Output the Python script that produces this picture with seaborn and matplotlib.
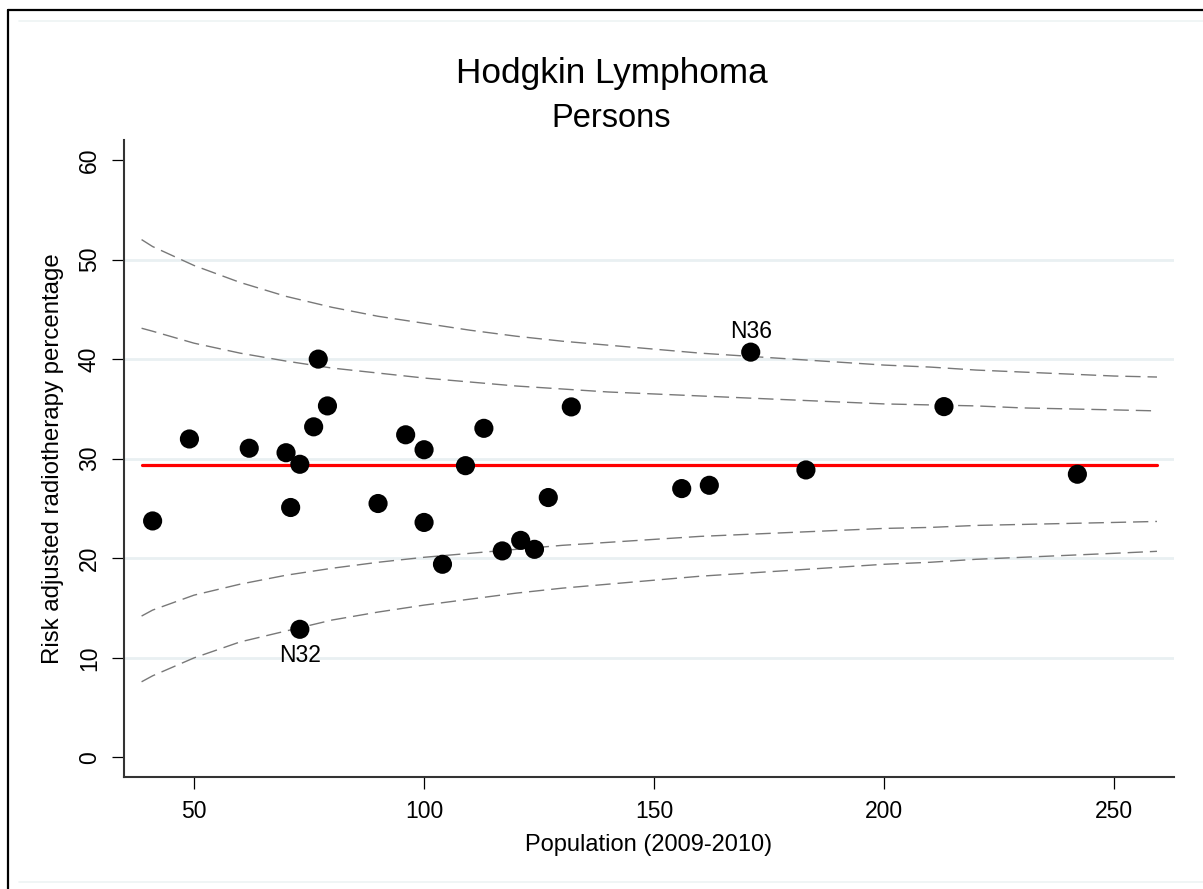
import matplotlib
matplotlib.use("Agg")
import matplotlib.pyplot as plt
from matplotlib.lines import Line2D
import numpy as np
import pandas as pd
import seaborn as sns

# Hospital populations and risk adjusted radiotherapy rates
population = [41, 49, 62, 70, 71, 73, 73, 76, 77, 79, 90, 96, 100, 100, 104,
              109, 113, 117, 121, 124, 127, 132, 156, 162, 171, 183, 213, 242]
rate = [23.75, 31.98, 31.05, 30.6, 25.1, 29.44, 12.87, 33.2, 40.0, 35.3, 25.5,
        32.4, 30.9, 23.6, 19.4, 29.3, 33.05, 20.74, 21.8, 20.9, 26.1, 35.2,
        27.0, 27.33, 40.7, 28.87, 35.23, 28.44]
point_id = ["", "", "", "", "", "", "N32", "", "", "", "", "", "", "", "",
            "", "", "", "", "", "", "", "", "", "N36", "", "", ""]

# Overall rate and funnel control limits
overall_rate = 29.4
limit_pop = [38.6, 41, 50, 60, 70, 80, 90, 100, 110, 120, 130, 140, 150, 160,
             170, 180, 190, 200, 210, 220, 230, 240, 250, 259.3]
upper_998 = [52.0, 51.3, 49.4, 47.7, 46.3, 45.2, 44.3, 43.6, 42.9, 42.3, 41.8,
             41.4, 41.0, 40.6, 40.3, 40.0, 39.7, 39.4, 39.2, 38.9, 38.7, 38.5,
             38.3, 38.2]
upper_95 = [43.1, 42.8, 41.6, 40.6, 39.8, 39.1, 38.6, 38.1, 37.7, 37.3, 37.0,
            36.7, 36.5, 36.3, 36.1, 35.9, 35.7, 35.5, 35.4, 35.3, 35.1, 35.0,
            34.9, 34.8]
lower_95 = [14.2, 14.8, 16.3, 17.4, 18.3, 19.0, 19.6, 20.1, 20.5, 20.9, 21.3,
            21.6, 21.9, 22.2, 22.4, 22.6, 22.8, 23.0, 23.1, 23.3, 23.4, 23.5,
            23.6, 23.7]
lower_998 = [7.6, 8.2, 10.0, 11.6, 12.7, 13.8, 14.6, 15.3, 15.9, 16.5, 17.0,
             17.4, 17.8, 18.2, 18.5, 18.8, 19.1, 19.4, 19.6, 19.9, 20.1, 20.3,
             20.5, 20.7]

x_ticks = [50, 100, 150, 200, 250]
y_ticks = [0, 10, 20, 30, 40, 50, 60]

sns.set_style("ticks")
plt.rcParams["font.family"] = ["Liberation Sans", "DejaVu Sans"]
plt.rcParams["text.color"] = "black"
plt.rcParams["axes.labelcolor"] = "black"
plt.rcParams["xtick.color"] = "black"
plt.rcParams["ytick.color"] = "black"

W, H = 1203, 889
fig = plt.figure(figsize=(W / 100, H / 100), dpi=100)
fig.patch.set_facecolor("white")
ax = fig.add_axes([124 / W, 1 - 777 / H, (1174 - 124) / W, (777 - 140) / H])
ax.set_facecolor("white")

ax.set_xlim(34.78, 263.0)
ax.set_ylim(-1.96, 62.0)

# Horizontal grid lines
for gy in [10, 20, 30, 40, 50]:
    ax.axhline(gy, color="#e9f0f2", lw=2.0, zorder=0)

points = pd.DataFrame({"population": population, "rate": rate, "id": point_id})
limits = pd.DataFrame({"population": limit_pop, "u998": upper_998,
                       "u95": upper_95, "l95": lower_95, "l998": lower_998})
limits["mean"] = overall_rate

for col in ["u998", "u95", "l95", "l998"]:
    sns.lineplot(data=limits, x="population", y=col, ax=ax, color="#787878",
                 lw=1.0, linestyle=(0, (11, 5)), zorder=2)

sns.lineplot(data=limits, x="population", y="mean", ax=ax, color="#ff0000",
             lw=2.3, zorder=3)

sns.scatterplot(data=points, x="population", y="rate", ax=ax, color="black",
                s=190, edgecolor="none", zorder=4)

for _, r in points[points["id"] != ""].iterrows():
    off = -19 if r["rate"] < overall_rate else 15
    ax.annotate(r["id"], (r["population"], r["rate"]), xytext=(0, off),
                textcoords="offset points", ha="center", va="center",
                fontsize=16.5, color="black")

ax.set_xticks(x_ticks)
ax.set_yticks(y_ticks)
ax.set_xticklabels([str(v) for v in x_ticks])
ax.set_yticklabels([str(v) for v in y_ticks], rotation=90, va="center")
ax.tick_params(axis="both", direction="out", length=8.6, width=0.9,
               color="black", labelsize=16.5, pad=8.0, labelcolor="black")

for side in ["top", "right"]:
    ax.spines[side].set_visible(False)
for side in ["left", "bottom"]:
    ax.spines[side].set_color("#333333")
    ax.spines[side].set_linewidth(1.5)

ax.set_xlabel("Population (2009-2010)", fontsize=17, va="center", color="black")
ax.set_ylabel("Risk adjusted radiotherapy percentage", fontsize=17.3,
              va="center", color="black")
ax.xaxis.set_label_coords(0.5, (777 - 845) / (777 - 140))
ax.yaxis.set_label_coords((53 - 124) / (1174 - 124), 0.5)

fig.text(611.7 / W, 1 - 83.3 / H, "Hodgkin Lymphoma", ha="center",
         va="baseline", fontsize=25.3, color="black")
fig.text(611.0 / W, 1 - 127 / H, "Persons", ha="center", va="baseline",
         fontsize=23.5, color="black")

# Graph region frame
fig.add_artist(Line2D([7.5 / W, 7.5 / W], [0, 1 - 10 / H], color="black",
                      lw=1.6, transform=fig.transFigure))
fig.add_artist(Line2D([7.5 / W, 1], [1 - 10 / H, 1 - 10 / H], color="black",
                      lw=1.6, transform=fig.transFigure))
fig.add_artist(Line2D([19 / W, 1], [1 - 20.5 / H, 1 - 20.5 / H],
                      color="#eef3f4", lw=1.2, transform=fig.transFigure))
fig.add_artist(Line2D([19 / W, 1], [1 - 882 / H, 1 - 882 / H],
                      color="#eef3f4", lw=1.2, transform=fig.transFigure))

fig.savefig("out.png", dpi=100, facecolor="white")
